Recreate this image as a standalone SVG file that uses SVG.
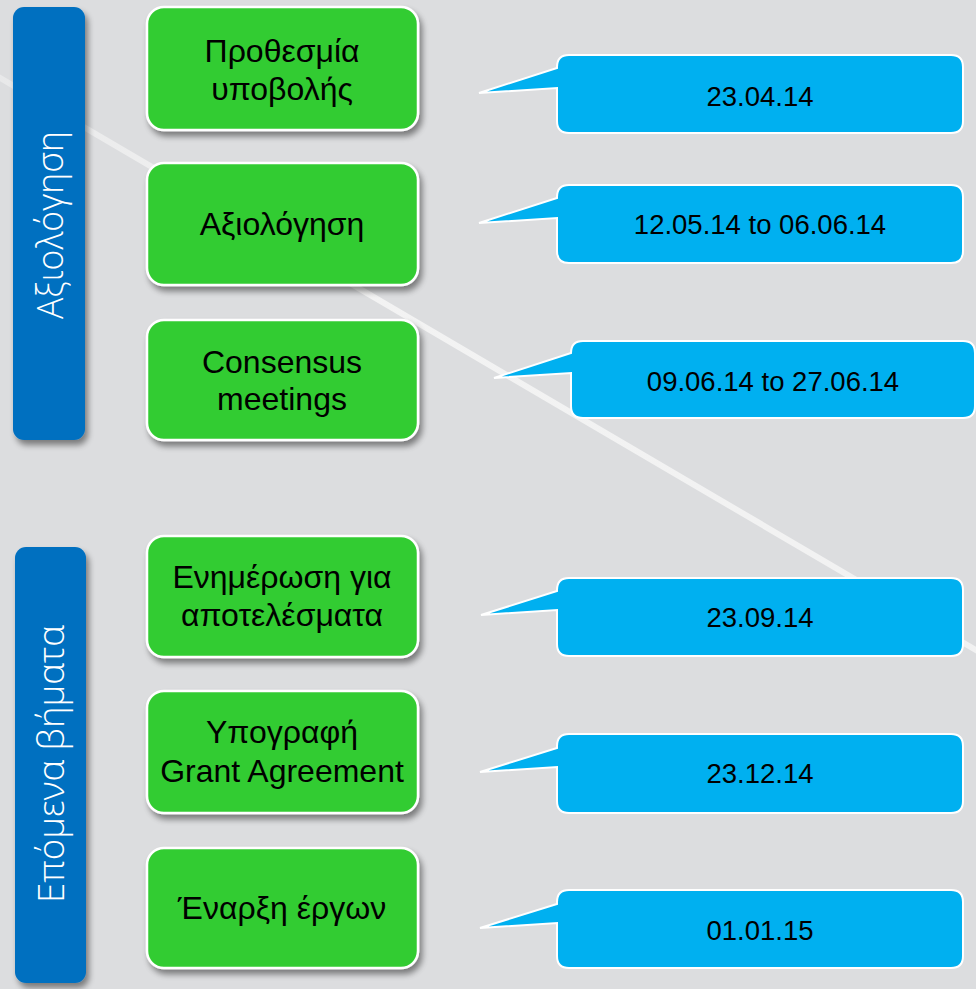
<svg xmlns="http://www.w3.org/2000/svg" width="976" height="989" viewBox="0 0 976 989">
  <defs>
    <filter id="sh" x="-10%" y="-10%" width="130%" height="140%">
      <feGaussianBlur in="SourceAlpha" stdDeviation="3"/>
      <feOffset dx="3" dy="5" result="b"/>
      <feComponentTransfer><feFuncA type="linear" slope="0.45"/></feComponentTransfer>
      <feMerge><feMergeNode/><feMergeNode in="SourceGraphic"/></feMerge>
    </filter>
    <linearGradient id="lineGrad" x1="0" y1="78" x2="976" y2="650" gradientUnits="userSpaceOnUse">
      <stop offset="0" stop-color="#f4f4f4" stop-opacity="0.5"/>
      <stop offset="0.3" stop-color="#f4f4f4" stop-opacity="0.95"/>
      <stop offset="1" stop-color="#f4f4f4" stop-opacity="0.9"/>
    </linearGradient>
  </defs>
  <style>
    .side { fill: #0070C0; }
    .sideTxt { font-family: "Open Sans", "Liberation Sans", sans-serif; font-weight: 300; font-size: 37px; fill: #ffffff; text-anchor: middle; }
    .step { fill: #33CC33; stroke: #ffffff; stroke-width: 2.5; }
    .stepTxt { font-family: "Liberation Sans", Arial, sans-serif; font-size: 32px; fill: #000000; text-anchor: middle; }
    .call { fill: #00B0F0; stroke: #ffffff; stroke-width: 2; stroke-linejoin: miter; }
    .callTxt { font-family: "Liberation Sans", Arial, sans-serif; font-size: 27.5px; fill: #000000; text-anchor: middle; }
  </style>

  <rect width="976" height="989" fill="#DCDDDF"/>
  <g id="decor">
    <line x1="-10" y1="72" x2="986" y2="656" stroke="url(#lineGrad)" stroke-width="6"/>
  </g>

  <g id="section-axiologisi">
    <rect class="side" x="13" y="7" width="72" height="433" rx="11" filter="url(#sh)"/>
    <text class="sideTxt" transform="translate(63,225) rotate(-90)" textLength="188" lengthAdjust="spacingAndGlyphs">Αξιολόγηση</text>
  </g>
  <g id="section-epomena">
    <rect class="side" x="15" y="547" width="71" height="436" rx="11" filter="url(#sh)"/>
    <text class="sideTxt" transform="translate(64,764) rotate(-90)" textLength="278" lengthAdjust="spacingAndGlyphs">Επόμενα βήματα</text>
  </g>

  <g id="step1">
    <rect class="step" x="147" y="7" width="271" height="123" rx="17" filter="url(#sh)"/>
    <text class="stepTxt" x="282" y="62">Προθεσμία</text>
    <text class="stepTxt" x="282" y="100">υποβολής</text>
  </g>
  <g id="step2">
    <rect class="step" x="147" y="163" width="271" height="122" rx="17" filter="url(#sh)"/>
    <text class="stepTxt" x="282" y="235">Αξιολόγηση</text>
  </g>
  <g id="step3">
    <rect class="step" x="147" y="320" width="271" height="120" rx="17" filter="url(#sh)"/>
    <text class="stepTxt" x="282" y="373">Consensus</text>
    <text class="stepTxt" x="282" y="410">meetings</text>
  </g>
  <g id="step4">
    <rect class="step" x="147" y="536" width="271" height="121" rx="17" filter="url(#sh)"/>
    <text class="stepTxt" x="282" y="588">Ενημέρωση για</text>
    <text class="stepTxt" x="282" y="626">αποτελέσματα</text>
  </g>
  <g id="step5">
    <rect class="step" x="147" y="691" width="271" height="122" rx="17" filter="url(#sh)"/>
    <text class="stepTxt" x="282" y="743">Υπογραφή</text>
    <text class="stepTxt" x="282" y="782">Grant Agreement</text>
  </g>
  <g id="step6">
    <rect class="step" x="147" y="848" width="271" height="120" rx="17" filter="url(#sh)"/>
    <text class="stepTxt" x="282" y="919">Έναρξη έργων</text>
  </g>

  <g id="connectors">
  </g>

  <g id="date1">
    <path class="call" d="M569,55 H951 Q963,55 963,67 V121 Q963,133 951,133 H569 Q557,133 557,121 V88 L479,93 L557,68 V67 Q557,55 569,55 Z"/>
    <text class="callTxt" x="760" y="106">23.04.14</text>
  </g>
  <g id="date2">
    <path class="call" d="M569,185 H951 Q963,185 963,197 V251 Q963,263 951,263 H569 Q557,263 557,251 V218 L479,223 L557,198 V197 Q557,185 569,185 Z"/>
    <text class="callTxt" x="760" y="234">12.05.14 to 06.06.14</text>
  </g>
  <g id="date3">
    <path class="call" d="M583,341 H963 Q975,341 975,353 V406 Q975,418 963,418 H583 Q571,418 571,406 V373 L494,378 L571,353 Q571,341 583,341 Z"/>
    <text class="callTxt" x="773" y="391">09.06.14 to 27.06.14</text>
  </g>
  <g id="date4">
    <path class="call" d="M569,578 H951 Q963,578 963,590 V644 Q963,656 951,656 H569 Q557,656 557,644 V610 L481,615 L557,591 V590 Q557,578 569,578 Z"/>
    <text class="callTxt" x="760" y="627">23.09.14</text>
  </g>
  <g id="date5">
    <path class="call" d="M569,734 H951 Q963,734 963,746 V801 Q963,813 951,813 H569 Q557,813 557,801 V767 L480,772 L557,748 V746 Q557,734 569,734 Z"/>
    <text class="callTxt" x="760" y="783">23.12.14</text>
  </g>
  <g id="date6">
    <path class="call" d="M569,890 H951 Q963,890 963,902 V956 Q963,968 951,968 H569 Q557,968 557,956 V923 L480,928 L557,904 V902 Q557,890 569,890 Z"/>
    <text class="callTxt" x="760" y="940">01.01.15</text>
  </g>
</svg>
